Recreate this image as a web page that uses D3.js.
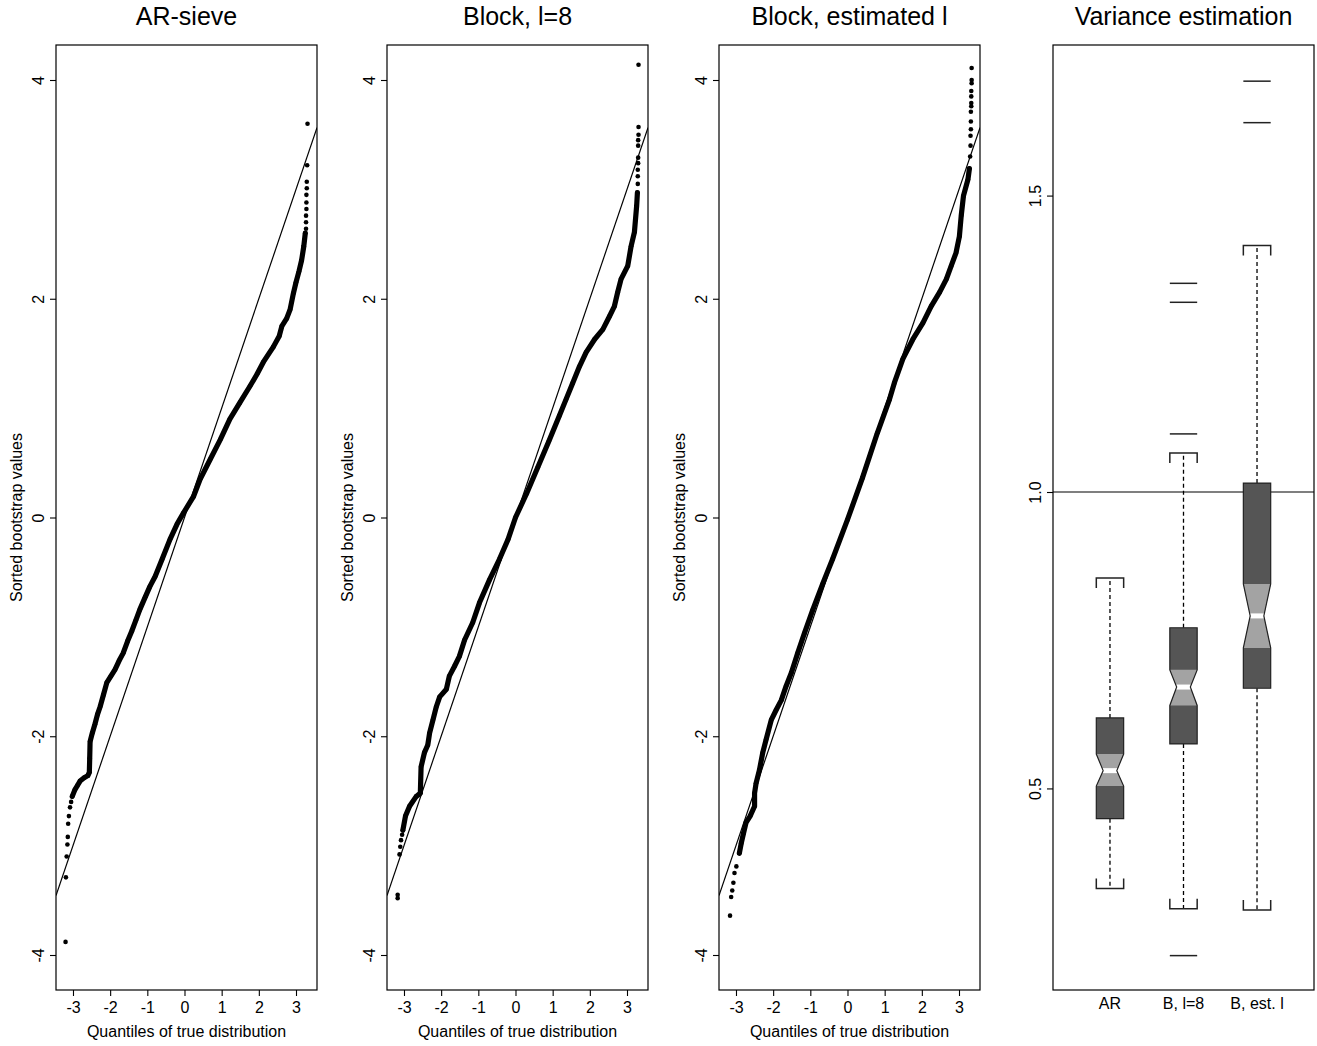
<!DOCTYPE html>
<html>
<head>
<meta charset="utf-8">
<script src="https://cdn.jsdelivr.net/npm/d3@7"></script>
<style>
  body { margin: 0; background: #fff; }
  svg { display: block; }
  text { font-family: "Liberation Sans", Arial, Helvetica, sans-serif; fill: #000; }
</style>
</head>
<body>
<svg id="chart" width="1317" height="1046"></svg>
<script>
// ---------------- DATA ----------------
const panelTitles = ["AR-sieve", "Block, l=8", "Block, estimated l", "Variance estimation"];
const qqXTicks = [-3, -2, -1, 0, 1, 2, 3];
const qqYTicks = [-4, -2, 0, 2, 4];
const qqXLabel = "Quantiles of true distribution";
const qqYLabel = "Sorted bootstrap values";

// AR-sieve: [theoretical quantile, sorted bootstrap value]
const arTailLow = [[-3.20,-3.88],[-3.19,-3.29],[-3.17,-3.10],[-3.15,-2.99],[-3.14,-2.92],[-3.13,-2.80],[-3.11,-2.73],[-3.08,-2.65],[-3.05,-2.60]];
const arBody = [[-3.02,-2.55],[-2.95,-2.49],[-2.88,-2.45],[-2.81,-2.41],[-2.70,-2.38],[-2.60,-2.36],[-2.56,-2.33],[-2.55,-2.20],[-2.54,-2.05],[-2.48,-1.97],[-2.41,-1.89],[-2.34,-1.80],[-2.27,-1.73],[-2.18,-1.62],[-2.09,-1.51],[-1.98,-1.45],[-1.87,-1.39],[-1.76,-1.31],[-1.65,-1.24],[-1.53,-1.13],[-1.42,-1.04],[-1.31,-0.94],[-1.20,-0.84],[-1.06,-0.73],[-0.93,-0.63],[-0.79,-0.54],[-0.60,-0.38],[-0.39,-0.20],[-0.20,-0.06],[-0.03,0.04],[0.24,0.19],[0.42,0.35],[0.69,0.53],[0.96,0.71],[1.22,0.90],[1.49,1.05],[1.76,1.20],[1.95,1.31],[2.12,1.42],[2.39,1.56],[2.55,1.66],[2.62,1.75],[2.75,1.82],[2.84,1.90],[2.93,2.05],[3.00,2.15],[3.08,2.25],[3.15,2.35],[3.21,2.48],[3.25,2.60]];
const arTailHigh = [[3.27,2.64],[3.27,2.70],[3.27,2.76],[3.28,2.82],[3.28,2.88],[3.28,2.95],[3.29,3.01],[3.29,3.07],[3.30,3.22],[3.31,3.60]];

// Block, l=8
const b8TailLow = [[-3.17,-3.48],[-3.17,-3.45],[-3.12,-3.08],[-3.10,-3.01],[-3.08,-2.95],[-3.05,-2.90]];
const b8Body = [[-3.03,-2.86],[-2.96,-2.73],[-2.85,-2.64],[-2.67,-2.55],[-2.56,-2.52],[-2.54,-2.28],[-2.45,-2.15],[-2.36,-2.08],[-2.31,-1.97],[-2.22,-1.85],[-2.13,-1.73],[-2.04,-1.64],[-1.86,-1.57],[-1.78,-1.45],[-1.64,-1.36],[-1.51,-1.27],[-1.37,-1.12],[-1.15,-0.96],[-0.97,-0.78],[-0.70,-0.57],[-0.43,-0.38],[-0.20,-0.20],[0.00,0.00],[0.30,0.22],[0.60,0.46],[0.90,0.70],[1.18,0.93],[1.36,1.08],[1.54,1.23],[1.72,1.38],[1.90,1.51],[2.13,1.63],[2.35,1.72],[2.53,1.84],[2.66,1.93],[2.75,2.06],[2.84,2.18],[3.02,2.30],[3.11,2.48],[3.20,2.61],[3.26,2.85],[3.28,2.97]];
const b8TailHigh = [[3.29,3.05],[3.29,3.12],[3.29,3.18],[3.30,3.24],[3.30,3.29],[3.30,3.40],[3.30,3.45],[3.31,3.50],[3.31,3.57],[3.31,4.14]];

// Block, estimated l
const beTailLow = [[-3.16,-3.64],[-3.13,-3.47],[-3.10,-3.41],[-3.07,-3.34],[-3.04,-3.25],[-2.99,-3.19]];
const beBody = [[-2.91,-3.07],[-2.86,-2.98],[-2.80,-2.89],[-2.73,-2.79],[-2.62,-2.73],[-2.50,-2.64],[-2.50,-2.52],[-2.46,-2.43],[-2.37,-2.31],[-2.28,-2.15],[-2.19,-2.03],[-2.05,-1.85],[-1.92,-1.76],[-1.78,-1.67],[-1.65,-1.54],[-1.51,-1.42],[-1.34,-1.24],[-1.16,-1.06],[-0.93,-0.84],[-0.66,-0.60],[-0.40,-0.38],[0.00,-0.02],[0.40,0.36],[0.80,0.77],[1.13,1.08],[1.26,1.23],[1.49,1.45],[1.76,1.63],[2.03,1.78],[2.25,1.93],[2.48,2.06],[2.66,2.18],[2.79,2.30],[2.92,2.42],[3.01,2.57],[3.06,2.76],[3.12,2.94],[3.24,3.09],[3.28,3.19]];
const beTailHigh = [[3.30,3.30],[3.31,3.40],[3.31,3.49],[3.32,3.55],[3.32,3.62],[3.32,3.71],[3.33,3.76],[3.33,3.79],[3.33,3.85],[3.33,3.90],[3.34,3.97],[3.34,4.00],[3.34,4.11]];

// Variance estimation boxplots
const boxCategories = ["AR", "B, l=8", "B, est. l"];
const boxLowerWhisker = [0.331, 0.297, 0.295];
const boxQ1 = [0.449, 0.575, 0.669];
const boxNotchLow = [0.504, 0.640, 0.737];
const boxMedian = [0.530, 0.671, 0.791];
const boxNotchHigh = [0.558, 0.700, 0.845];
const boxQ3 = [0.619, 0.771, 1.015];
const boxUpperWhisker = [0.855, 1.066, 1.416];
const boxOutliers = [[], [0.218, 1.098, 1.320, 1.352], [1.623, 1.693]];
const boxYTicks = [0.5, 1.0, 1.5];
const referenceVariance = 1.0;

// ---------------- LAYOUT ----------------
const svg = d3.select("#chart");
const panelLeft = [56, 387, 719, 1053];
const panelW = 261, plotTop = 45, plotBottom = 990;
const qqXDomain = [-3.457, 3.565];
const qqYDomain = [-4.32, 4.32];
const fontAxis = 16, fontTitle = 25;

function drawTitle(cx, txt) {
  svg.append("text").attr("x", cx).attr("y", 25).attr("text-anchor", "middle")
    .style("font-size", fontTitle + "px").text(txt);
}

const qqSets = [
  { low: arTailLow, body: arBody, high: arTailHigh },
  { low: b8TailLow, body: b8Body, high: b8TailHigh },
  { low: beTailLow, body: beBody, high: beTailHigh }
];

qqSets.forEach((set, i) => {
  const L = panelLeft[i];
  const x = d3.scaleLinear().domain(qqXDomain).range([L, L + panelW]);
  const y = d3.scaleLinear().domain(qqYDomain).range([plotBottom, plotTop]);
  const g = svg.append("g");
  const clipId = "clip" + i;
  svg.append("clipPath").attr("id", clipId).append("rect")
    .attr("x", L).attr("y", plotTop).attr("width", panelW).attr("height", plotBottom - plotTop);

  // reference line y = x
  g.append("line").attr("clip-path", `url(#${clipId})`)
    .attr("x1", x(qqXDomain[0])).attr("y1", y(qqXDomain[0]))
    .attr("x2", x(qqXDomain[1])).attr("y2", y(qqXDomain[1]))
    .attr("stroke", "#000").attr("stroke-width", 1.2);

  // dense body of points
  const line = d3.line().x(d => x(d[0])).y(d => y(d[1]));
  g.append("path").datum(set.body).attr("d", line)
    .attr("fill", "none").attr("stroke", "#000").attr("stroke-width", 5.2)
    .attr("stroke-linejoin", "round").attr("stroke-linecap", "round");
  const pts = set.low.concat(set.body, set.high);
  g.selectAll("circle.pt").data(pts).enter().append("circle")
    .attr("cx", d => x(d[0])).attr("cy", d => y(d[1])).attr("r", 2.3).attr("fill", "#000");

  // frame
  g.append("rect").attr("x", L).attr("y", plotTop).attr("width", panelW).attr("height", plotBottom - plotTop)
    .attr("fill", "none").attr("stroke", "#000").attr("stroke-width", 1.2);

  // x axis
  const xa = svg.append("g").attr("transform", `translate(0,${plotBottom})`)
    .call(d3.axisBottom(x).tickValues(qqXTicks).tickSize(6).tickPadding(6).tickFormat(d => String(d)));
  xa.select(".domain").remove();
  xa.attr("font-family", null).attr("font-size", null);
  xa.selectAll("text").style("font-size", fontAxis + "px");
  xa.selectAll("line").attr("stroke-width", 1.1);

  // y axis
  const ya = svg.append("g").attr("transform", `translate(${L},0)`)
    .call(d3.axisLeft(y).tickValues(qqYTicks).tickSize(6).tickFormat(d => String(d)));
  ya.select(".domain").remove();
  ya.attr("font-family", null).attr("font-size", null);
  ya.selectAll("line").attr("stroke-width", 1.1);
  ya.selectAll("text").style("font-size", fontAxis + "px")
    .attr("x", null).attr("dy", null).attr("text-anchor", "middle")
    .attr("transform", "translate(-12,0) rotate(-90)");

  // axis labels
  svg.append("text").attr("x", L + panelW / 2).attr("y", 1037).attr("text-anchor", "middle")
    .style("font-size", fontAxis + "px").text(qqXLabel);
  svg.append("text").attr("transform", `translate(${L - 34},${(plotTop + plotBottom) / 2}) rotate(-90)`)
    .attr("text-anchor", "middle").style("font-size", fontAxis + "px").text(qqYLabel);

  drawTitle(L + panelW / 2, panelTitles[i]);
});

// ---------------- BOXPLOT PANEL ----------------
(function () {
  const L = panelLeft[3];
  const x = d3.scaleLinear().domain([0.225, 3.775]).range([L, L + panelW]);
  const y = d3.scaleLinear().domain([0.16, 1.754]).range([plotBottom, plotTop]);
  const g = svg.append("g");
  const boxWData = 0.372;
  const hw = (x(1 + boxWData) - x(1)) / 2;
  const hn = hw / 2;
  const darkFill = "#555555", lightFill = "#a3a3a3";

  // reference line at 1.0
  g.append("line").attr("x1", L).attr("x2", L + panelW)
    .attr("y1", y(referenceVariance)).attr("y2", y(referenceVariance))
    .attr("stroke", "#000").attr("stroke-width", 1.2);

  boxCategories.forEach((cat, i) => {
    const c = x(i + 1);
    const q1 = y(boxQ1[i]), q3 = y(boxQ3[i]), med = y(boxMedian[i]);
    const nl = y(boxNotchLow[i]), nh = y(boxNotchHigh[i]);
    const wl = y(boxLowerWhisker[i]), wu = y(boxUpperWhisker[i]);

    // whiskers
    g.append("line").attr("x1", c).attr("x2", c).attr("y1", q3).attr("y2", wu)
      .attr("stroke", "#000").attr("stroke-width", 1.3).attr("stroke-dasharray", "4,3");
    g.append("line").attr("x1", c).attr("x2", c).attr("y1", q1).attr("y2", wl)
      .attr("stroke", "#000").attr("stroke-width", 1.3).attr("stroke-dasharray", "4,3");
    // caps (bracket shaped)
    const capLeg = 10;
    g.append("path").attr("d", `M${c - hw},${wu + capLeg}V${wu}H${c + hw}V${wu + capLeg}`)
      .attr("fill", "none").attr("stroke", "#222").attr("stroke-width", 1.5);
    g.append("path").attr("d", `M${c - hw},${wl - capLeg}V${wl}H${c + hw}V${wl - capLeg}`)
      .attr("fill", "none").attr("stroke", "#222").attr("stroke-width", 1.5);

    const boxPts = [[c - hw, q3], [c + hw, q3], [c + hw, nh], [c + hn, med], [c + hw, nl], [c + hw, q1],
                    [c - hw, q1], [c - hw, nl], [c - hn, med], [c - hw, nh]];
    const notchPts = [[c - hw, nh], [c + hw, nh], [c + hn, med], [c + hw, nl], [c - hw, nl], [c - hn, med]];
    g.append("polygon").attr("points", boxPts.map(p => p.join(",")).join(" ")).attr("fill", darkFill);
    g.append("polygon").attr("points", notchPts.map(p => p.join(",")).join(" ")).attr("fill", lightFill);
    g.append("line").attr("x1", c - hn - 1).attr("x2", c + hn + 1).attr("y1", med).attr("y2", med)
      .attr("stroke", "#fff").attr("stroke-width", 5);
    g.append("polygon").attr("points", boxPts.map(p => p.join(",")).join(" "))
      .attr("fill", "none").attr("stroke", "#222").attr("stroke-width", 1.2);

    // outliers as short horizontal lines
    boxOutliers[i].forEach(v => {
      g.append("line").attr("x1", c - hw).attr("x2", c + hw).attr("y1", y(v)).attr("y2", y(v))
        .attr("stroke", "#222").attr("stroke-width", 1.5);
    });

    svg.append("text").attr("x", c).attr("y", 1009).attr("text-anchor", "middle")
      .style("font-size", fontAxis + "px").text(cat);
  });

  g.append("rect").attr("x", L).attr("y", plotTop).attr("width", panelW).attr("height", plotBottom - plotTop)
    .attr("fill", "none").attr("stroke", "#000").attr("stroke-width", 1.2);

  const ya = svg.append("g").attr("transform", `translate(${L},0)`)
    .call(d3.axisLeft(y).tickValues(boxYTicks).tickSize(6).tickFormat(d => d.toFixed(1)));
  ya.select(".domain").remove();
  ya.attr("font-family", null).attr("font-size", null);
  ya.selectAll("line").attr("stroke-width", 1.1);
  ya.selectAll("text").style("font-size", fontAxis + "px")
    .attr("x", null).attr("dy", null).attr("text-anchor", "middle")
    .attr("transform", "translate(-12,0) rotate(-90)");

  drawTitle(L + panelW / 2, panelTitles[3]);
})();
</script>
</body>
</html>
